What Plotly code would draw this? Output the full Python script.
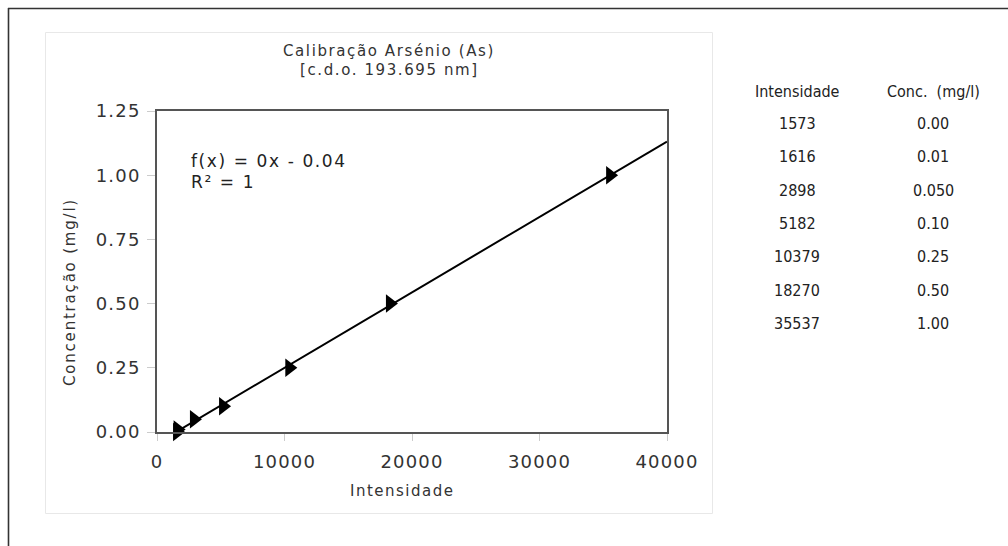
import numpy as np
import plotly.graph_objects as go

# Calibration standards: emission intensity vs. arsenic concentration
intensidade = [1573, 1616, 2898, 5182, 10379, 18270, 35537]
concentracao = [0.00, 0.01, 0.05, 0.10, 0.25, 0.50, 1.00]
conc_labels = ["0.00", "0.01", "0.050", "0.10", "0.25", "0.50", "1.00"]

x_ticks = [0, 10000, 20000, 30000, 40000]
y_ticks = [0.00, 0.25, 0.50, 0.75, 1.00, 1.25]

# Least-squares calibration line
slope, intercept = np.polyfit(intensidade, concentracao, 1)
x_line = np.array([0, 40000])
y_line = slope * x_line + intercept

W, H = 1008, 546
L, R, T, B = 157, 667, 111, 432  # plot area in pixels
pw, ph = R - L, B - T


def px(x):
    return (x - L) / pw


def py(y):
    return (B - y) / ph


def spaced(text, sp):
    return f'<span style="letter-spacing:{sp}px">{text}</span>'


FONT = "DejaVu Sans"
COND = "DejaVu Sans Condensed"
TXT = "#333333"

fig = go.Figure()
fig.add_trace(go.Scatter(
    x=x_line, y=y_line, mode="lines",
    line=dict(color="black", width=2), hoverinfo="skip", showlegend=False,
))
fig.add_trace(go.Scatter(
    x=intensidade, y=concentracao, mode="markers",
    marker=dict(symbol="triangle-right", size=16, color="black"),
    showlegend=False, cliponaxis=False,
))

shapes = [
    # outer frame
    dict(type="line", xref="paper", yref="paper", x0=px(8), x1=px(1020), y0=py(8.5), y1=py(8.5),
         line=dict(color="#333333", width=1.6)),
    dict(type="line", xref="paper", yref="paper", x0=px(8.5), x1=px(8.5), y0=py(8), y1=py(560),
         line=dict(color="#333333", width=1.6)),
    # chart area border
    dict(type="rect", xref="paper", yref="paper", x0=px(45.5), x1=px(712.5), y0=py(32.5), y1=py(513.5),
         line=dict(color="#e8e8e8", width=1), layer="below"),
]


def note(text, x, y, size, family=FONT, anchor="center", angle=0, color=TXT):
    return dict(text=text, xref="paper", yref="paper", x=px(x), y=py(y),
                xanchor=anchor, yanchor="middle", showarrow=False, textangle=angle,
                font=dict(family=family, size=size, color=color))


annotations = [
    note(spaced("Calibração Arsénio (As)", 1.6), 389, 51, 15),
    note(spaced("[c.d.o. 193.695 nm]", 1.6), 389, 70, 15),
    note(spaced("f(x) = 0x - 0.04", 1.6), 189, 161, 17, anchor="left", color="#222222"),
    note(spaced("R² = 1", 1.6), 189, 182, 17, anchor="left", color="#222222"),
    note(spaced("Intensidade", 1.5), 402, 491, 15),
    note(spaced("Concentração (mg/l)", 1.8), 70, 292, 15, angle=-90),
    note("Intensidade", 797, 91, 16, family=COND, color="#222222"),
    note("Conc.  (mg/l)", 933, 91, 16, family=COND, color="#222222"),
]
row_y = [123, 156.5, 190, 223, 256.5, 290, 323]
for v, c, ry in zip(intensidade, conc_labels, row_y):
    annotations.append(note(str(v), 797, ry, 16, family=COND, color="#222222"))
    annotations.append(note(c, 933, ry, 16, family=COND, color="#222222"))

fig.update_layout(
    width=W, height=H,
    margin=dict(l=L, r=W - R, t=T, b=H - B),
    paper_bgcolor="white", plot_bgcolor="white",
    font=dict(family=FONT, color=TXT),
    shapes=shapes, annotations=annotations,
    xaxis=dict(
        range=[0, 40000], tickvals=x_ticks,
        ticktext=[spaced(str(t), 1.2) for t in x_ticks],
        showgrid=False, zeroline=False, showline=True, linecolor="#555555", linewidth=1.6,
        mirror=True, ticks="outside", ticklen=7, tickcolor="#cccccc",
        ticklabelstandoff=6,
        tickfont=dict(family=FONT, size=18, color=TXT),
    ),
    yaxis=dict(
        range=[0, 1.25], tickvals=y_ticks,
        ticktext=[spaced(f"{t:.2f}", 1.2) for t in y_ticks],
        showgrid=False, zeroline=False, showline=True, linecolor="#555555", linewidth=1.6,
        mirror=True, ticks="outside", ticklen=8, tickcolor="#cccccc",
        ticklabelstandoff=3,
        tickfont=dict(family=FONT, size=18, color=TXT),
    ),
)

fig.write_html("out.html")
